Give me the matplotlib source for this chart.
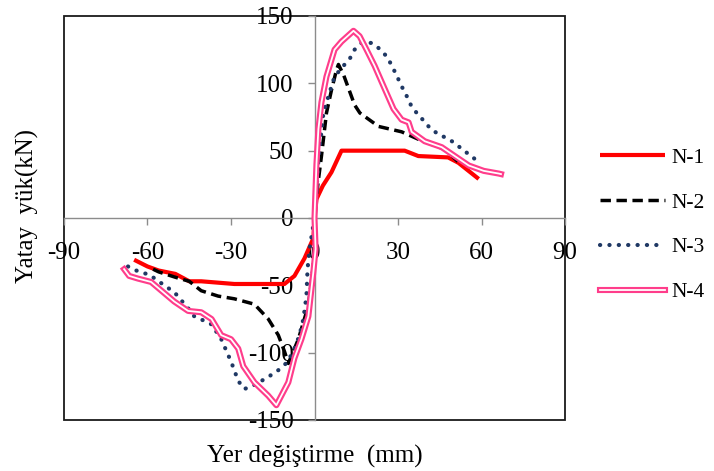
import matplotlib
matplotlib.use("Agg")
import matplotlib.pyplot as plt
import matplotlib.patheffects as pe
from matplotlib.patches import Rectangle

plt.rcParams['font.family'] = ['Liberation Serif', 'DejaVu Serif']
plt.rcParams['axes.unicode_minus'] = False

# Lateral load (kN) vs. displacement (mm) envelope curves
n1_x = [-64.8, -60.0, -56.0, -50.0, -45.0, -40.7, -28.8, -10.8, -7.2, -3.6, -0.4, 0.0,
        0.7, 3.0, 6.1, 9.7, 20.0, 32.4, 37.3, 48.0, 51.7, 59.0]
n1_y = [-31.0, -36.0, -39.0, -41.5, -47.0, -47.0, -49.0, -49.0, -43.0, -30.0, -15.0, 0.0,
        14.0, 24.0, 34.0, 50.0, 50.0, 50.0, 46.0, 45.0, 41.0, 29.0]

n2_x = [-58.0, -56.0, -50.0, -45.0, -40.7, -34.6, -28.8, -21.6, -16.6, -13.0, -10.8, -9.4,
        -5.8, -2.2, -0.4, 0.0, 1.2, 2.5, 4.3, 6.1, 7.9, 8.6, 10.5, 14.4, 16.3, 23.0, 31.3,
        37.3, 46.8, 51.5]
n2_y = [-38.0, -40.0, -44.0, -47.0, -54.0, -58.0, -60.0, -64.0, -75.0, -87.0, -99.0, -108.0,
        -90.0, -65.0, -35.0, 0.0, 25.0, 46.0, 78.0, 95.0, 110.0, 114.0, 106.0, 84.0, 78.0,
        68.0, 64.0, 58.5, 51.0, 42.0]

n3_x = [-67.0, -63.0, -59.4, -56.0, -53.3, -50.4, -47.9, -45.4, -43.2, -40.0, -37.0, -33.5,
        -29.9, -27.4, -25.2, -21.6, -16.6, -13.0, -9.7, -7.2, -5.4, -4.0, -2.9, -2.5,
        -1.8, 0.0, 1.5, 3.2, 5.4, 7.2, 10.4, 12.6, 14.4, 16.9, 20.5, 23.8, 26.3, 29.5,
        31.0, 32.8, 34.6, 36.7, 38.9, 41.4, 44.6, 47.9, 50.8, 53.6, 56.5, 59.4]
n3_y = [-36.0, -40.0, -42.0, -47.0, -51.0, -55.0, -61.0, -67.0, -73.0, -76.0, -79.0, -90.0,
        -107.0, -121.0, -127.0, -124.0, -118.0, -113.0, -107.0, -97.0, -87.0, -75.0, -58.0,
        -38.0, -23.0, 0.0, 45.0, 78.0, 93.0, 105.0, 113.0, 118.0, 125.0, 130.0, 130.0,
        125.0, 119.0, 106.0, 99.0, 92.0, 84.0, 78.0, 73.0, 67.0, 62.0, 59.0, 55.0, 50.0,
        46.0, 40.0]

n4_x = [-68.4, -66.6, -63.4, -58.7, -54.4, -50.4, -45.4, -40.7, -37.0, -33.5, -30.0, -27.4,
        -25.6, -21.6, -16.6, -13.7, -9.4, -7.2, -4.7, -2.2, -0.4, 0.4, 0.0, 0.7, 1.4, 2.5,
        4.3, 7.2, 9.7, 14.0, 16.2, 18.7, 21.6, 25.2, 28.4, 31.3, 33.8, 34.9, 39.6, 45.7,
        50.4, 55.4, 60.8, 66.2, 67.0]
n4_y = [-38.0, -43.0, -45.0, -47.5, -55.0, -62.0, -69.0, -70.0, -75.0, -87.0, -90.0, -97.0,
        -110.0, -122.0, -132.0, -139.0, -122.0, -104.0, -90.0, -73.0, -40.0, -23.0, 0.0,
        40.0, 66.0, 86.0, 105.0, 125.0, 131.0, 139.0, 135.0, 125.0, 113.0, 96.0, 81.0,
        73.0, 71.0, 64.0, 57.0, 52.6, 46.0, 39.0, 35.0, 33.0, 32.6]

labels = ['N-1', 'N-2', 'N-3', 'N-4']
x_ticks = [-90, -60, -30, 0, 30, 60, 90]
y_ticks = [-150, -100, -50, 0, 50, 100, 150]

fig = plt.figure(figsize=(7.14, 4.71), dpi=100)
ax = fig.add_axes([64 / 714, 1 - 420 / 471, 501 / 714, 404 / 471])

ax.plot(n1_x, n1_y, color='#ff0000', lw=3.0, solid_capstyle='butt', label=labels[0], zorder=3)
ax.plot(n2_x, n2_y, color='black', lw=2.5, linestyle=(0, (3.0, 1.6)), label=labels[1], zorder=4)
ax.plot(n3_x, n3_y, color='#1f3864', lw=3.0, linestyle=(0, (0.05, 2.2)),
        dash_capstyle='round', label=labels[2], zorder=5)
ax.plot(n4_x, n4_y, color='white', lw=1.3, label=labels[3], zorder=6,
        path_effects=[pe.Stroke(linewidth=4.4, foreground='#ff3d8b'), pe.Normal()])

ax.set_xlim(-90, 90)
ax.set_ylim(-150, 150)
ax.set_xticks(x_ticks)
ax.set_yticks(y_ticks)

# zero-crossing axes in grey, outer plot frame in black
for side in ('left', 'bottom'):
    ax.spines[side].set_position(('data', 0))
    ax.spines[side].set_color('#8c8c8c')
    ax.spines[side].set_linewidth(1.0)
for side in ('top', 'right'):
    ax.spines[side].set_visible(False)
ax.add_patch(Rectangle((0, 0), 1, 1, transform=ax.transAxes, fill=False,
                       ec='#1a1a1a', lw=1.3, clip_on=False, zorder=1))

ax.tick_params(axis='x', direction='out', length=5, width=1, color='#8c8c8c',
               pad=12, labelsize=18)
ax.tick_params(axis='y', direction='out', length=5, width=1, color='#8c8c8c',
               pad=10, labelsize=18)

ax.set_xlabel('Yer değiştirme  (mm)', fontsize=18)
ax.xaxis.set_label_coords(0.5, -0.062)
ax.set_ylabel('Yatay  yük(kN)', fontsize=18)
ax.yaxis.set_label_coords(-0.05, 0.53)

fig.legend(loc='center left', bbox_to_anchor=(600 / 714, 1 - 225 / 471), frameon=False,
           fontsize=15.5, handlelength=3.0, handletextpad=0.3, labelspacing=1.15,
           borderpad=0, borderaxespad=0)

fig.savefig('out.png', dpi=100)
